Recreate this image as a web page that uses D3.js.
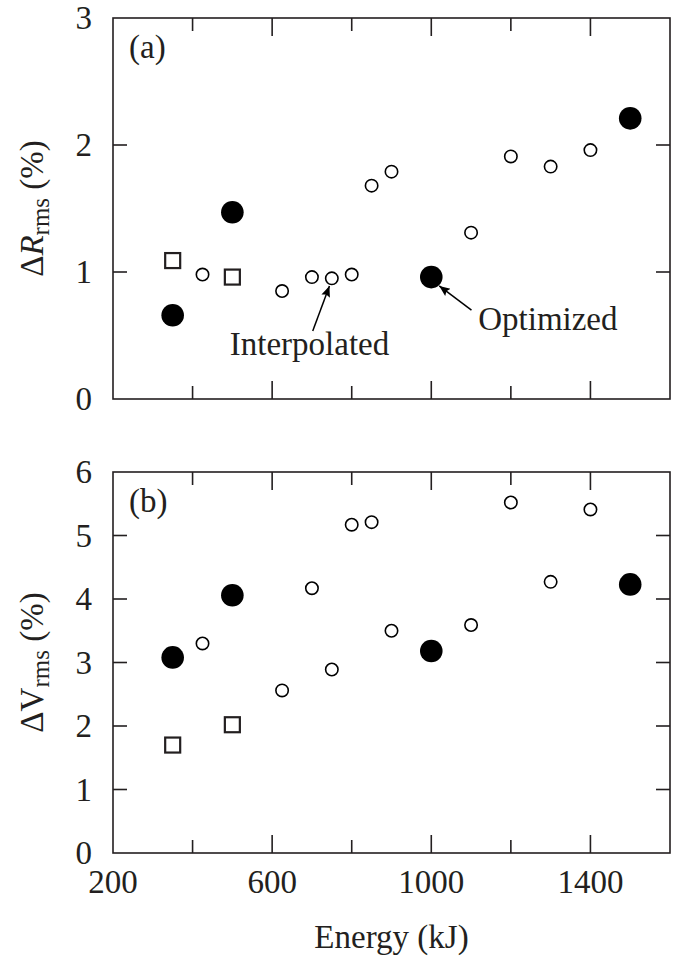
<!DOCTYPE html>
<html>
<head>
<meta charset="utf-8">
<script src="https://cdn.jsdelivr.net/npm/d3@7"></script>
<style>
  body { margin: 0; background: #fff; }
  text { font-family: "Liberation Serif", "Times New Roman", serif; fill: #231f20; }
  .frame { fill: none; stroke: #231f20; stroke-width: 1.6; }
</style>
</head>
<body>
<svg id="chart" width="673" height="960"></svg>
<script>
// energies (kJ)
var optEnergy = [350, 500, 1000, 1500];
var sqEnergy = [350, 500];
var intEnergy = [425, 625, 700, 750, 800, 850, 900, 1100, 1200, 1300, 1400];

// panel (a): delta R rms (%)
var optR = [0.66, 1.47, 0.96, 2.21];
var sqR = [1.09, 0.96];
var intR = [0.98, 0.85, 0.96, 0.95, 0.98, 1.68, 1.79, 1.31, 1.91, 1.83, 1.96];

// panel (b): delta V rms (%)
var optV = [3.08, 4.06, 3.18, 4.23];
var sqV = [1.70, 2.02];
var intV = [3.30, 2.56, 4.17, 2.89, 5.17, 5.21, 3.50, 3.59, 5.52, 4.27, 5.41];

var xTicks = [400, 600, 800, 1000, 1200, 1400];
var xLabels = [200, 600, 1000, 1400];

var svg = d3.select("#chart");
var left = 113, right = 670;
var fs = 33;

var x = d3.scaleLinear().domain([200, 1600]).range([left, right]);

function zip(xs, ys) {
  return xs.map(function(v, i) { return {e: v, v: ys[i]}; });
}

function panel(top, bottom, ymax, opt, sq, itp, letter, sym, showX) {
  var y = d3.scaleLinear().domain([0, ymax]).range([bottom, top]);
  var g = svg.append("g");

  // ticks, all inward
  var ticksY = d3.range(1, ymax);
  g.selectAll(".yl").data(ticksY).enter().append("line")
    .attr("x1", left).attr("x2", left + 14)
    .attr("y1", function(d) { return y(d); }).attr("y2", function(d) { return y(d); })
    .attr("stroke", "#231f20").attr("stroke-width", 1.6);
  g.selectAll(".yr").data(ticksY).enter().append("line")
    .attr("x1", right).attr("x2", right - 14)
    .attr("y1", function(d) { return y(d); }).attr("y2", function(d) { return y(d); })
    .attr("stroke", "#231f20").attr("stroke-width", 1.6);
  var tlen = function(d) { return (d - 200) % 400 === 0 ? 18 : 13; };
  g.selectAll(".xb").data(xTicks).enter().append("line")
    .attr("x1", function(d) { return x(d); }).attr("x2", function(d) { return x(d); })
    .attr("y1", bottom).attr("y2", function(d) { return bottom - tlen(d); })
    .attr("stroke", "#231f20").attr("stroke-width", 1.6);
  g.selectAll(".xt").data(xTicks).enter().append("line")
    .attr("x1", function(d) { return x(d); }).attr("x2", function(d) { return x(d); })
    .attr("y1", top).attr("y2", function(d) { return top + tlen(d); })
    .attr("stroke", "#231f20").attr("stroke-width", 1.6);

  g.append("rect").attr("class", "frame")
    .attr("x", left).attr("y", top)
    .attr("width", right - left).attr("height", bottom - top);

  // y tick labels
  g.selectAll(".ylab").data(d3.range(0, ymax + 1)).enter().append("text")
    .attr("x", 92).attr("y", function(d) { return y(d); })
    .attr("dy", "0.34em")
    .attr("text-anchor", "end")
    .style("font-size", fs + "px")
    .text(function(d) { return d; });

  if (showX) {
    g.selectAll(".xlab").data(xLabels).enter().append("text")
      .attr("x", function(d) { return x(d); }).attr("y", bottom + 40)
      .attr("text-anchor", "middle")
      .style("font-size", fs + "px")
      .text(function(d) { return d; });
  }

  g.append("text").attr("x", 129).attr("y", top + 40)
    .style("font-size", fs + "px").text(letter);

  // y axis title
  var t = g.append("text")
    .attr("transform", "translate(43," + ((top + bottom) / 2) + ")rotate(-90)")
    .attr("text-anchor", "middle")
    .style("font-size", fs + "px");
  t.append("tspan").text("\u0394");
  var s = t.append("tspan").text(sym);
  if (sym === "R") s.style("font-style", "italic");
  t.append("tspan").attr("dy", 6).style("font-size", "25px").text("rms");
  t.append("tspan").attr("dy", -6).text(" (%)");

  // interpolated points
  g.selectAll(".ip").data(zip(intEnergy, itp)).enter().append("circle")
    .attr("cx", function(d) { return x(d.e); })
    .attr("cy", function(d) { return y(d.v); })
    .attr("r", 6.2)
    .attr("fill", "#fff").attr("stroke", "#000").attr("stroke-width", 1.6);

  // squares
  g.selectAll(".sq").data(zip(sqEnergy, sq)).enter().append("rect")
    .attr("x", function(d) { return x(d.e) - 7.5; })
    .attr("y", function(d) { return y(d.v) - 7.5; })
    .attr("width", 15).attr("height", 15)
    .attr("fill", "#fff").attr("stroke", "#231f20").attr("stroke-width", 2.2);

  // optimized points
  g.selectAll(".op").data(zip(optEnergy, opt)).enter().append("circle")
    .attr("cx", function(d) { return x(d.e); })
    .attr("cy", function(d) { return y(d.v); })
    .attr("r", 11.3)
    .attr("fill", "#000");

  return {g: g, y: y};
}

var defs = svg.append("defs");
defs.append("marker")
  .attr("id", "arrow")
  .attr("viewBox", "0 0 12 10")
  .attr("refX", 12).attr("refY", 5)
  .attr("markerWidth", 12).attr("markerHeight", 9)
  .attr("markerUnits", "userSpaceOnUse")
  .attr("orient", "auto")
  .append("path").attr("d", "M0,0 L12,5 L0,10 L2,5 Z").attr("fill", "#000");

var pa = panel(18, 399, 3, optR, sqR, intR, "(a)", "R", false);
panel(472, 853, 6, optV, sqV, intV, "(b)", "V", true);

// annotations in panel (a)
var ya = pa.y;
pa.g.append("line")
  .attr("x1", x(702)).attr("y1", ya(0.535))
  .attr("x2", x(744)).attr("y2", ya(0.89))
  .attr("stroke", "#000").attr("stroke-width", 1.5)
  .attr("marker-end", "url(#arrow)");
pa.g.append("text")
  .attr("x", x(694)).attr("y", ya(0.346))
  .attr("text-anchor", "middle")
  .style("font-size", fs + "px")
  .text("Interpolated");

pa.g.append("line")
  .attr("x1", x(1101)).attr("y1", ya(0.70))
  .attr("x2", x(1020)).attr("y2", ya(0.89))
  .attr("stroke", "#000").attr("stroke-width", 1.5)
  .attr("marker-end", "url(#arrow)");
pa.g.append("text")
  .attr("x", x(1118)).attr("y", ya(0.543))
  .style("font-size", fs + "px")
  .text("Optimized");

svg.append("text")
  .attr("x", (left + right) / 2).attr("y", 948)
  .attr("text-anchor", "middle")
  .style("font-size", fs + "px")
  .text("Energy (kJ)");
</script>
</body>
</html>
